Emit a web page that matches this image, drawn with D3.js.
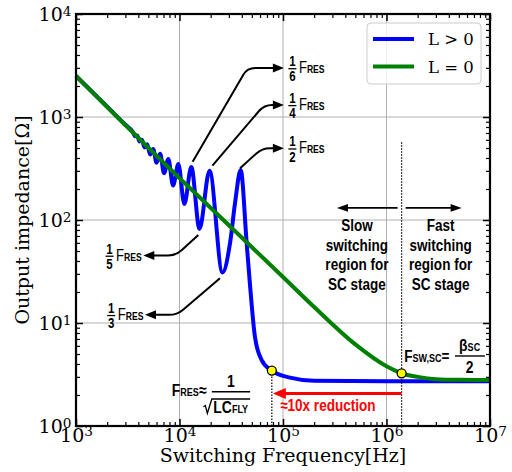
<!DOCTYPE html>
<html>
<head>
<meta charset="utf-8">
<script src="https://cdn.jsdelivr.net/npm/d3@7"></script>
<style>
  html, body { margin: 0; padding: 0; background: #fff; }
  svg { display: block; }
</style>
</head>
<body>
<div id="chart"></div>
<script>
// L = 0 curve (green)
const freqL0 = [1e3, 1e4, 3e4, 1e5, 2e5, 5e5, 1e6, 1.4e6, 2e6, 3e6, 5e6, 1e7];
const zL0 = [2500, 255, 89, 28, 14.3, 6.2, 3.8, 3.25, 3.0, 2.85, 2.81, 2.8];

// L > 0 curve (blue), peaks at Fres/2n, dips at Fres/(2n+1)
const freqL1 = [1000, 2000, 3000, 3545, 3714, 3900, 4105, 4333, 4588, 4875, 5200, 5571,
  6000, 6500, 7091, 7800, 8667, 9750, 11140, 13000, 15600, 19500, 26000, 30800, 34400,
  39000, 44600, 48000, 53600, 62200, 78000, 117000, 200000, 1e6, 1e7];
const zL1 = [2500, 1260, 840, 715, 652, 660, 579, 600, 507, 544, 433, 489,
  359, 439, 285, 390, 216, 350, 143, 327, 82, 300, 31, 60, 146,
  305, 59, 23.4, 7.3, 4.37, 3.45, 2.95, 2.75, 2.72, 2.72];

const xMajor = [1e3, 1e4, 1e5, 1e6, 1e7];
const yMajor = [1, 10, 100, 1000, 10000];
const legendLabels = ["L > 0", "L = 0"];

// marked points
const fRes = 78000, zRes = 3.45;
const fSw = 1.4e6, zSw = 3.25, zSwTop = 570;
const zRegionArrow = 131, zReduction = 2.07;

// fraction annotations: curve point -> bend -> arrow tip (data coords)
const peakNotes = [
  { den: "6", start: [13400, 368], bend: [45100, 2990], tip: [102000, 2990] },
  { den: "4", start: [20800, 337], bend: [65800, 1310], tip: [102000, 1310] },
  { den: "2", start: [38500, 318], bend: [62700, 497], tip: [102000, 497] },
  { den: "5", start: [15200, 71.5], bend: [9250, 45.2], tip: [4470, 45.2] },
  { den: "3", start: [24600, 27.2], bend: [9460, 12.0], tip: [4640, 12.0] }
];

const SANS = "'Liberation Sans', Arial, sans-serif";
const SERIF = "'DejaVu Serif', serif";
const NARROW = 0.82;

class ImpedanceChart {
    constructor(container) {
        this.container = container;
        this.init();
    }

    init() {
        this.margin = { top: 14, right: 22, bottom: 46, left: 76 };
        this.width = 414;
        this.height = 412;

        this.createSvg();
        this.createScales();
        this.drawGrid();
        this.drawCurves();
        this.drawMarkers();
        this.drawNotes();
        this.drawAxes();
        this.drawLegend();
    }

    createSvg() {
        this.svg = d3.select(this.container)
            .append("svg")
            .attr("width", 512)
            .attr("height", 472);
        this.g = this.svg.append("g")
            .attr("transform", `translate(${this.margin.left},${this.margin.top})`);
    }

    createScales() {
        this.x = d3.scaleLog().domain([1e3, 1e7]).range([0, this.width]);
        this.y = d3.scaleLog().domain([1, 1e4]).range([this.height, 0]);
    }

    // condensed bold sans text
    ntext(g, x, y, size, anchor = "start") {
        return g.append("text")
            .attr("transform", `translate(${x},${y}) scale(${NARROW},1)`)
            .attr("text-anchor", anchor)
            .attr("font-family", SANS).attr("font-size", size).attr("font-weight", "bold");
    }

    drawGrid() {
        const grid = this.g.append("g").attr("stroke", "#b0b0b0").attr("stroke-width", 1);
        grid.selectAll(".gx").data(xMajor.slice(1, -1)).enter().append("line")
            .attr("x1", d => this.x(d)).attr("x2", d => this.x(d))
            .attr("y1", 0).attr("y2", this.height);
        grid.selectAll(".gy").data(yMajor.slice(1, -1)).enter().append("line")
            .attr("y1", d => this.y(d)).attr("y2", d => this.y(d))
            .attr("x1", 0).attr("x2", this.width);
    }

    drawCurves() {
        const line = d3.line()
            .x(d => this.x(d[0]))
            .y(d => this.y(d[1]))
            .curve(d3.curveMonotoneX);

        this.g.append("path")
            .attr("d", line(d3.zip(freqL1, zL1)))
            .attr("fill", "none").attr("stroke", "#0000ff").attr("stroke-width", 4);
        this.g.append("path")
            .attr("d", line(d3.zip(freqL0, zL0)))
            .attr("fill", "none").attr("stroke", "#008000").attr("stroke-width", 4);
    }

    arrowHead(g, tx, ty, dx, dy, len, half, color) {
        const bx = tx - dx * len, by = ty - dy * len;
        g.append("path")
            .attr("d", `M${tx},${ty}L${bx - dy * half},${by + dx * half}L${bx + dy * half},${by - dx * half}Z`)
            .attr("fill", color);
    }

    drawMarkers() {
        const g = this.g, x = this.x, y = this.y;
        const xr = x(fRes), xs = x(fSw);

        // dotted dividers
        g.append("line").attr("x1", xr).attr("x2", xr).attr("y1", y(zRes)).attr("y2", this.height)
            .attr("stroke", "#000").attr("stroke-width", 1.2).attr("stroke-dasharray", "1.5,1.5");
        g.append("line").attr("x1", xs).attr("x2", xs).attr("y1", y(zSwTop)).attr("y2", this.height)
            .attr("stroke", "#000").attr("stroke-width", 1.2).attr("stroke-dasharray", "1.5,1.5");

        // slow / fast arrows
        const ya = y(zRegionArrow);
        g.append("line").attr("x1", xs - 4).attr("x2", xs - 55).attr("y1", ya).attr("y2", ya)
            .attr("stroke", "#000").attr("stroke-width", 1.6);
        this.arrowHead(g, xs - 64.7, ya, -1, 0, 11, 3.8, "#000");
        g.append("line").attr("x1", xs + 4).attr("x2", xs + 50).attr("y1", ya).attr("y2", ya)
            .attr("stroke", "#000").attr("stroke-width", 1.6);
        this.arrowHead(g, xs + 60, ya, 1, 0, 11, 3.8, "#000");

        const slow = ["Slow", "switching", "region for", "SC stage"];
        const fast = ["Fast", "switching", "region for", "SC stage"];
        [[slow, xs - 44.7], [fast, xs + 39]].forEach(([lines, cx]) => {
            lines.forEach((d, i) => {
                this.ntext(g, cx, ya + 23 + i * 19.7, 16.5, "middle").text(d);
            });
        });

        // red reduction arrow
        const yr = y(zReduction);
        g.append("line").attr("x1", xs).attr("x2", xr + 12).attr("y1", yr).attr("y2", yr)
            .attr("stroke", "#ff0000").attr("stroke-width", 3);
        this.arrowHead(g, xr + 1, yr, -1, 0, 13, 5.5, "#ff0000");
        this.ntext(g, xr + 8.3, yr + 17.7, 16.5).attr("fill", "#ff0000").text("≈10x reduction");

        // yellow points
        g.selectAll(".pt").data([[fRes, zRes], [fSw, zSw]]).enter().append("circle")
            .attr("cx", d => x(d[0])).attr("cy", d => y(d[1])).attr("r", 4.5)
            .attr("fill", "#ffff00").attr("stroke", "#000").attr("stroke-width", 1.3);

        // F_RES formula
        const hb = this.height;
        const fr = g.append("g");
        const t1 = this.ntext(fr, xr - 100, hb - 30, 17);
        t1.append("tspan").text("F");
        t1.append("tspan").attr("font-size", 11).text("RES");
        t1.append("tspan").text("≈");
        fr.append("line").attr("x1", xr - 60).attr("x2", xr - 21.7)
            .attr("y1", hb - 34.3).attr("y2", hb - 34.3).attr("stroke", "#000").attr("stroke-width", 1.4);
        this.ntext(fr, xr - 41, hb - 39.5, 17, "middle").text("1");
        fr.append("path")
            .attr("d", `M${xr - 68.4},${hb - 19.3}L${xr - 66.5},${hb - 20.5}L${xr - 64.5},${hb - 12.7}L${xr - 60},${hb - 27}L${xr - 21.7},${hb - 27}`)
            .attr("fill", "none").attr("stroke", "#000").attr("stroke-width", 1.3);
        const t2 = this.ntext(fr, xr - 58.5, hb - 13, 17);
        t2.append("tspan").text("LC");
        t2.append("tspan").attr("font-size", 11).text("FLY");

        // F_SW,SC formula
        const yd = y(zSw);
        const fs = g.append("g");
        const t3 = this.ntext(fs, xs + 2.6, yd - 11.3, 16.5);
        t3.append("tspan").text("F");
        t3.append("tspan").attr("font-size", 11).text("SW,SC");
        t3.append("tspan").text("=");
        fs.append("line").attr("x1", xs + 53.3).attr("x2", xs + 83.3)
            .attr("y1", yd - 17.3).attr("y2", yd - 17.3).attr("stroke", "#000").attr("stroke-width", 1.4);
        const t4 = this.ntext(fs, xs + 68, yd - 22, 17, "middle");
        t4.append("tspan").text("β");
        t4.append("tspan").attr("font-size", 11).text("SC");
        this.ntext(fs, xs + 68, yd, 17, "middle").text("2");
    }

    fracLabel(g, den, x0, yb, alignRight) {
        const t = g.append("g");
        const inner = t.append("g").attr("transform", `scale(${NARROW},1)`)
            .attr("font-family", SANS).attr("font-weight", "bold");
        inner.append("text").attr("x", 5.5).attr("y", -7).attr("font-size", 14)
            .attr("text-anchor", "middle").text("1");
        inner.append("line").attr("x1", 0.6).attr("x2", 10.4)
            .attr("y1", -4.3).attr("y2", -4.3).attr("stroke", "#000").attr("stroke-width", 1.3);
        inner.append("text").attr("x", 5.5).attr("y", 8.3).attr("font-size", 14)
            .attr("text-anchor", "middle").text(den);
        const f = inner.append("text").attr("x", 13.4).attr("y", 0).attr("font-size", 16);
        f.append("tspan").attr("font-weight", "normal").text("F");
        f.append("tspan").attr("font-size", 10.5).text("RES");
        const w = inner.node().getBBox().width * NARROW;
        t.attr("transform", `translate(${alignRight ? x0 - w : x0},${yb})`);
        return t;
    }

    drawNotes() {
        const g = this.g.append("g");
        const r = 8, head = 11;
        peakNotes.forEach(n => {
            const s = [this.x(n.start[0]), this.y(n.start[1])];
            const b = [this.x(n.bend[0]), this.y(n.bend[1])];
            const t = [this.x(n.tip[0]), this.y(n.tip[1])];
            const l1 = Math.hypot(b[0] - s[0], b[1] - s[1]);
            const u1 = [(b[0] - s[0]) / l1, (b[1] - s[1]) / l1];
            const l2 = Math.hypot(t[0] - b[0], t[1] - b[1]);
            const u2 = [(t[0] - b[0]) / l2, (t[1] - b[1]) / l2];
            const p = d3.path();
            p.moveTo(s[0], s[1]);
            p.lineTo(b[0] - u1[0] * r, b[1] - u1[1] * r);
            p.quadraticCurveTo(b[0], b[1], b[0] + u2[0] * r, b[1] + u2[1] * r);
            p.lineTo(t[0] - u2[0] * (head - 2), t[1] - u2[1] * (head - 2));
            g.append("path").attr("d", p.toString())
                .attr("fill", "none").attr("stroke", "#000").attr("stroke-width", 2);
            this.arrowHead(g, t[0], t[1], u2[0], u2[1], head, 4.5, "#000");

            const yb = t[1] + 5;
            if (u2[0] > 0) this.fracLabel(g, n.den, t[0] + 4, yb, false);
            else this.fracLabel(g, n.den, t[0] - 1.5, yb, true);
        });
    }

    drawAxes() {
        const x = this.x, y = this.y, h = this.height, w = this.width;
        const xMinor = x.ticks().filter(d => !xMajor.includes(d));
        const yMinor = y.ticks().filter(d => !yMajor.includes(d));

        const supLabels = sel => sel.selectAll(".tick text").each(function (d) {
            const e = Math.round(Math.log10(d));
            const t = d3.select(this).text(null);
            t.append("tspan").text("10");
            t.append("tspan").attr("dy", "-0.42em").attr("font-size", "0.72em").text(e);
        });

        const style = (sel, width) => {
            sel.attr("font-family", SERIF).attr("font-size", 19);
            sel.select(".domain").remove();
            sel.selectAll(".tick line").attr("stroke-width", width);
        };

        // bottom / left with labels
        const bx = this.g.append("g").attr("transform", `translate(0,${h})`)
            .call(d3.axisBottom(x).tickValues(xMajor).tickSize(-7).tickSizeOuter(0).tickPadding(2.5));
        style(bx, 1.5); supLabels(bx);
        const ly = this.g.append("g")
            .call(d3.axisLeft(y).tickValues(yMajor).tickSize(-7).tickSizeOuter(0).tickPadding(4.5));
        style(ly, 1.5); supLabels(ly);
        ly.selectAll(".tick text").attr("dy", "0.36em");

        // minor + mirrored ticks
        const blank = a => a.tickFormat("").tickSizeOuter(0);
        [
            [d3.axisBottom(x).tickValues(xMinor).tickSize(-4), `translate(0,${h})`, 1.2],
            [d3.axisTop(x).tickValues(xMajor).tickSize(-7), null, 1.5],
            [d3.axisTop(x).tickValues(xMinor).tickSize(-4), null, 1.2],
            [d3.axisLeft(y).tickValues(yMinor).tickSize(-4), null, 1.2],
            [d3.axisRight(y).tickValues(yMajor).tickSize(-7), `translate(${w},0)`, 1.5],
            [d3.axisRight(y).tickValues(yMinor).tickSize(-4), `translate(${w},0)`, 1.2]
        ].forEach(([ax, tr, sw]) => {
            const a = this.g.append("g").call(blank(ax));
            if (tr) a.attr("transform", tr);
            style(a, sw);
        });

        // frame
        this.g.append("rect").attr("width", w).attr("height", h)
            .attr("fill", "none").attr("stroke", "#000").attr("stroke-width", 2.2);

        // titles
        this.g.append("text")
            .attr("x", w / 2).attr("y", h + 36)
            .attr("text-anchor", "middle")
            .attr("font-family", SERIF).attr("font-size", 19)
            .text("Switching Frequency[Hz]");
        this.g.append("text")
            .attr("transform", `translate(${-47},${h / 2}) rotate(-90)`)
            .attr("text-anchor", "middle")
            .attr("font-family", SERIF).attr("font-size", 19)
            .text("Output impedance[Ω]");
    }

    drawLegend() {
        const lg = this.g.append("g").attr("transform", `translate(${this.width - 123},9)`);
        lg.append("rect").attr("width", 114).attr("height", 61).attr("rx", 4)
            .attr("fill", "#fff").attr("fill-opacity", 0.8)
            .attr("stroke", "#cccccc").attr("stroke-width", 1);
        const colors = ["#0000ff", "#008000"];
        legendLabels.forEach((lab, i) => {
            const yy = 16 + i * 27.5;
            lg.append("line").attr("x1", 6).attr("x2", 47).attr("y1", yy).attr("y2", yy)
                .attr("stroke", colors[i]).attr("stroke-width", 4);
            lg.append("text").attr("x", 61).attr("y", yy + 6)
                .attr("font-family", SERIF).attr("font-size", 16.5)
                .text(lab);
        });
    }
}

new ImpedanceChart("#chart");
</script>
</body>
</html>
